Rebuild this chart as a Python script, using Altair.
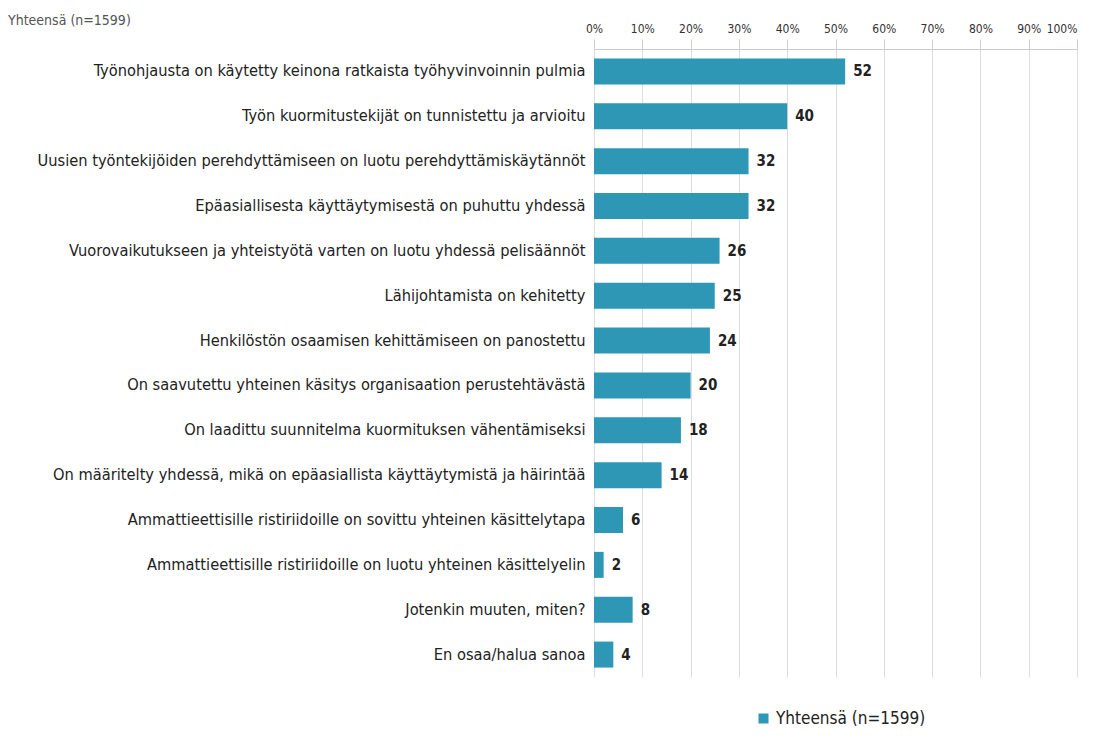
import altair as alt
import pandas as pd

categories = [
    "Työnohjausta on käytetty keinona ratkaista työhyvinvoinnin pulmia",
    "Työn kuormitustekijät on tunnistettu ja arvioitu",
    "Uusien työntekijöiden perehdyttämiseen on luotu perehdyttämiskäytännöt",
    "Epäasiallisesta käyttäytymisestä on puhuttu yhdessä",
    "Vuorovaikutukseen ja yhteistyötä varten on luotu yhdessä pelisäännöt",
    "Lähijohtamista on kehitetty",
    "Henkilöstön osaamisen kehittämiseen on panostettu",
    "On saavutettu yhteinen käsitys organisaation perustehtävästä",
    "On laadittu suunnitelma kuormituksen vähentämiseksi",
    "On määritelty yhdessä, mikä on epäasiallista käyttäytymistä ja häirintää",
    "Ammattieettisille ristiriidoille on sovittu yhteinen käsittelytapa",
    "Ammattieettisille ristiriidoille on luotu yhteinen käsittelyelin",
    "Jotenkin muuten, miten?",
    "En osaa/halua sanoa",
]
values = [52, 40, 32, 32, 26, 25, 24, 20, 18, 14, 6, 2, 8, 4]
series_name = "Yhteensä (n=1599)"
tick_values = [0, 10, 20, 30, 40, 50, 60, 70, 80, 90, 100]

df = pd.DataFrame({"cat": categories, "val": values, "series": series_name})

FONT = "'Liberation Sans Narrow', 'DejaVu Sans Condensed', Roboto, sans-serif"
BAR = "#2E97B5"

y_enc = alt.Y("cat:N", sort=categories, title=None,
              scale=alt.Scale(paddingInner=0.42, paddingOuter=0.21),
              axis=alt.Axis(labelFontSize=16.3, labelColor="#222222", labelFont=FONT,
                            labelPadding=9, ticks=False, domain=False, labelLimit=600))

x_enc = alt.X("val:Q", title=None,
              scale=alt.Scale(domain=[0, 100]),
              axis=alt.Axis(orient="top", values=tick_values,
                            labelExpr="datum.value + '%'",
                            labelFlush=False,
                            labelAlign={"condition": {"test": "datum.value == 100", "value": "right"},
                                        "value": "center"},
                            labelFontSize=12, labelColor="#333333", labelFont=FONT,
                            tickSize=10, tickColor="#cccccc", domainColor="#cccccc",
                            grid=True, gridColor="#dddddd", labelPadding=4))

bars = alt.Chart(df).mark_bar(color=BAR).encode(
    x=x_enc,
    y=y_enc,
    color=alt.Color("series:N", scale=alt.Scale(range=[BAR]),
                    legend=alt.Legend(title=None, orient="none", legendX=161, legendY=661,
                                      symbolType="square", symbolSize=100,
                                      labelFontSize=17, labelColor="#222222", labelFont=FONT)),
)

labels = alt.Chart(df).mark_text(align="left", baseline="middle", dx=8,
                                 fontSize=15, fontWeight="bold", color="#222222", font=FONT).encode(
    x="val:Q",
    y=alt.Y("cat:N", sort=categories),
    text="val:Q",
)

chart = (bars + labels).properties(
    width=483,
    height=628,
    autosize=alt.AutoSizeParams(type="none"),
    padding={"left": 586, "top": 41, "right": 8, "bottom": 54},
    title=alt.TitleParams(series_name, anchor="start", frame="group", dx=-586, dy=10,
                          fontSize=14, fontWeight="normal", color="#555555", font=FONT),
).configure_view(stroke=None)

chart.save("out.html", embed_options={"renderer": "svg", "actions": False})
